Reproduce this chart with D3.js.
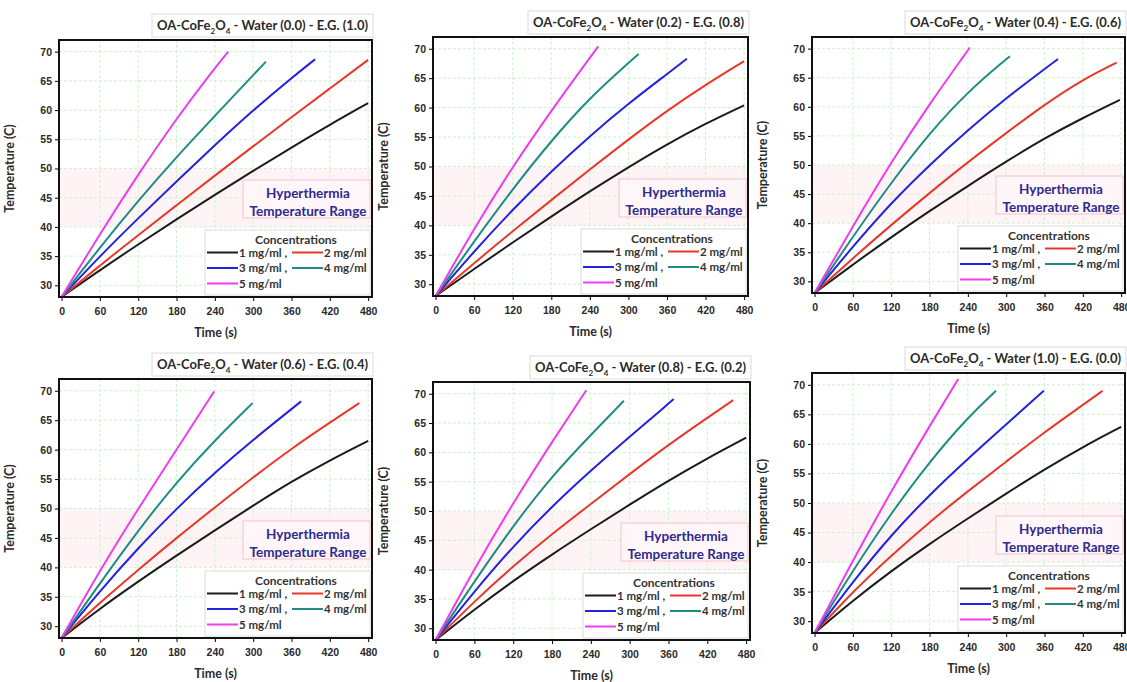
<!DOCTYPE html>
<html>
<head>
<meta charset="utf-8">
<script src="https://cdn.jsdelivr.net/npm/d3@7"></script>
<style>
  body { margin: 0; background: #fff; }
  svg { font-family: Lato, "Open Sans", sans-serif; }
</style>
</head>
<body>
<div id="chart"></div>
<script>
// Concentrations and their line colours.
const concentrations = ["1 mg/ml", "2 mg/ml", "3 mg/ml", "4 mg/ml", "5 mg/ml"];
const lineColors = ["#1b1b1b", "#e8382a", "#2222e0", "#1f8c84", "#ee3cee"];

// Water / ethylene glycol fractions, one panel each.
const waterFractions = ["0.0", "0.2", "0.4", "0.6", "0.8", "1.0"];
const egFractions = ["1.0", "0.8", "0.6", "0.4", "0.2", "0.0"];

const xTicks = [0, 60, 120, 180, 240, 300, 360, 420, 480];
const yTicks = [30, 35, 40, 45, 50, 55, 60, 65, 70];

// Temperatures (C) read at 0, 60, 120 ... s, plus where each run stopped.
const times = [0, 60, 120, 180, 240, 300, 360, 420, 480];

const tempsW00 = [
  [28, 32.6, 37, 41.3, 45.5, 49.6, 53.6, 57.5, 61.2],
  [28, 33.4, 38.6, 43.7, 48.8, 53.8, 58.8, 63.7, 68.6],
  [28, 35, 41.5, 47.8, 54, 60, 65.5],
  [28, 36.5, 44.5, 52, 59, 66],
  [28, 38.8, 49, 58.6, 67.2]
];
const stopW00 = [[480, 61.2], [480, 68.6], [397, 68.7], [320, 68.3], [261, 70]];

const tempsW02 = [
  [28, 32.6, 37.1, 41.5, 45.8, 49.9, 53.8, 57.3, 60.4],
  [28, 33.6, 39, 44.3, 49.5, 54.6, 59.5, 63.9, 67.9],
  [28, 35.6, 42.7, 49.2, 55.2, 60.7, 65.7],
  [28, 37.3, 46.2, 54.4, 61.7, 67.6],
  [28, 39.5, 50, 59.5, 68.5]
];
const stopW02 = [[480, 60.4], [480, 67.9], [391, 68.3], [316, 69.1], [253, 70.4]];

const tempsW04 = [
  [28, 32.9, 37.6, 42.1, 46.4, 50.6, 54.6, 58.1],
  [28, 34, 39.7, 45.2, 50.5, 55.5, 60.4, 64.7],
  [28, 36, 43.5, 50, 56, 61.5, 66.5],
  [28, 37.7, 47, 55.5, 62.6, 68.2],
  [28, 39.5, 50.5, 60.5, 69.7]
];
const stopW04 = [[478, 61.2], [473, 67.6], [381, 68.2], [306, 68.7], [243, 70.2]];

const tempsW06 = [
  [28, 33, 37.6, 42, 46.3, 50.5, 54.6, 58.2, 61.5],
  [28, 34, 39.6, 45, 50.2, 55.3, 60.2, 64.6],
  [28, 36, 43.3, 50, 56.1, 61.7, 66.9],
  [28, 37.3, 46.3, 54.5, 61.6],
  [28, 39.5, 50, 60]
];
const stopW06 = [[480, 61.5], [466, 67.9], [375, 68.2], [299, 67.9], [239, 69.9]];

const tempsW08 = [
  [28, 33.2, 38.1, 42.6, 46.9, 51.1, 55.2, 59, 62.5],
  [28, 34.6, 40.6, 46.1, 51.2, 56.3, 61.3, 65.9],
  [28, 36.3, 44, 50.8, 56.9, 62.7, 68.3],
  [28, 38, 47.5, 56, 63],
  [28, 40.2, 51.4, 61.8]
];
const stopW08 = [[480, 62.5], [460, 68.9], [368, 69.1], [291, 68.8], [233, 70.6]];

const tempsW10 = [
  [28, 33.5, 38.5, 43.1, 47.4, 51.6, 55.7, 59.5, 62.9],
  [28, 35, 41.1, 46.8, 52, 57, 62, 66.6],
  [28, 36.7, 44.6, 51.4, 57.5, 63.3],
  [28, 38.6, 48.3, 57, 64.5],
  [28, 40.3, 52, 63]
];
const stopW10 = [[480, 62.9], [451, 69], [359, 69], [284, 69], [225, 71]];

const panelTemps = [tempsW00, tempsW02, tempsW04, tempsW06, tempsW08, tempsW10];
const panelStops = [stopW00, stopW02, stopW04, stopW06, stopW08, stopW10];

// Plot frames of the six panels (left, top, right, bottom).
const frames = [
  [59, 40, 372, 297], [433, 37, 748, 296], [812, 37, 1125, 293],
  [59, 379, 372, 638], [433, 382, 750, 640], [812, 373, 1125, 633]
];

const width = 1127, height = 682;

const svg = d3.select("#chart").append("svg")
  .attr("width", width)
  .attr("height", height)
  .attr("viewBox", [0, 0, width, height]);

frames.forEach((f, p) => {
  const [L, T, R, B] = f;
  const x = d3.scaleLinear().domain([-4, 486]).range([L, R]);
  const y = d3.scaleLinear().domain([28, 72]).range([B, T]);
  const g = svg.append("g");

  // hyperthermia band 40-50 C
  g.append("rect")
    .attr("x", L).attr("width", R - L)
    .attr("y", y(50)).attr("height", y(40) - y(50))
    .attr("fill", "#fef4f6");

  // grid
  g.append("g").selectAll("line").data(xTicks.slice(1)).join("line")
    .attr("x1", d => x(d)).attr("x2", d => x(d))
    .attr("y1", T).attr("y2", B)
    .attr("stroke", "#cdf2cd").attr("stroke-dasharray", "3,2");
  g.append("g").selectAll("line").data(yTicks).join("line")
    .attr("x1", L).attr("x2", R)
    .attr("y1", d => y(d)).attr("y2", d => y(d))
    .attr("stroke", "#cdf2cd").attr("stroke-dasharray", "3,2");

  // hyperthermia label
  const hb = g.append("g");
  hb.append("rect")
    .attr("x", R - 129).attr("y", B - 117)
    .attr("width", 127).attr("height", 38)
    .attr("fill", "#fef6f8").attr("stroke", "#f3c4cc").attr("stroke-width", 1);
  hb.selectAll("text").data(["Hyperthermia", "Temperature Range"]).join("text")
    .attr("x", R - 64).attr("y", (d, i) => B - 99 + i * 18)
    .attr("text-anchor", "middle")
    .attr("font-size", 13.5).attr("font-weight", 700)
    .attr("fill", "#2e2a8e")
    .text(d => d);

  // curves
  const line = d3.line().x(d => x(d[0])).y(d => y(d[1])).curve(d3.curveBasis);
  panelTemps[p].forEach((temps, s) => {
    const pts = temps.map((v, i) => [times[i], v]);
    const stop = panelStops[p][s];
    if (stop[0] > pts[pts.length - 1][0]) pts.push(stop);
    g.append("path")
      .attr("d", line(pts))
      .attr("fill", "none")
      .attr("stroke", lineColors[s])
      .attr("stroke-width", 2);
  });

  // legend
  const lg = g.append("g");
  lg.append("rect")
    .attr("x", R - 167).attr("y", B - 67)
    .attr("width", 165).attr("height", 65)
    .attr("fill", "#fff").attr("stroke", "#dcdcdc");
  lg.append("text")
    .attr("x", R - 76).attr("y", B - 53)
    .attr("text-anchor", "middle")
    .attr("font-size", 12).attr("font-weight", 700).attr("fill", "#333")
    .text("Concentrations");
  concentrations.forEach((c, i) => {
    const col = i % 2, row = Math.floor(i / 2);
    const lx = col === 0 ? R - 165 : R - 80;
    const ly = B - 40.5 + row * 15.5;
    lg.append("line")
      .attr("x1", lx).attr("x2", lx + 31)
      .attr("y1", ly - 4).attr("y2", ly - 4)
      .attr("stroke", lineColors[i]).attr("stroke-width", 2);
    lg.append("text")
      .attr("x", lx + 32).attr("y", ly)
      .attr("font-size", 11.5).attr("font-weight", 700).attr("fill", "#333")
      .text(col === 0 && i < 4 ? c + " ," : c);
  });

  // axes
  g.append("g")
    .attr("transform", `translate(0,${B})`)
    .call(d3.axisBottom(x).tickValues(xTicks).tickSize(4).tickSizeOuter(0))
    .call(a => a.select(".domain").remove())
    .call(a => a.selectAll("text").attr("font-size", 10.5).attr("font-weight", 700)
      .attr("fill", "#2a2a2a").attr("font-family", null).attr("dy", "1em"));
  g.append("g")
    .attr("transform", `translate(${L},0)`)
    .call(d3.axisLeft(y).tickValues(yTicks).tickSize(4).tickSizeOuter(0))
    .call(a => a.select(".domain").remove())
    .call(a => a.selectAll("text").attr("font-size", 10.5).attr("font-weight", 700)
      .attr("fill", "#2a2a2a").attr("font-family", null));

  // frame
  g.append("rect")
    .attr("x", L).attr("y", T).attr("width", R - L).attr("height", B - T)
    .attr("fill", "none").attr("stroke", "#111").attr("stroke-width", 2);

  // axis titles
  g.append("text")
    .attr("transform", `translate(${L - 45},${(T + B) / 2}) rotate(-90)`)
    .attr("text-anchor", "middle")
    .attr("font-size", 12.5).attr("font-weight", 700).attr("fill", "#2a2a2a")
    .text("Temperature (C)");
  g.append("text")
    .attr("x", (L + R) / 2).attr("y", B + 40)
    .attr("text-anchor", "middle")
    .attr("font-size", 12.5).attr("font-weight", 700).attr("fill", "#2a2a2a")
    .text("Time (s)");

  // panel title
  g.append("rect")
    .attr("x", R - 220).attr("y", T - 26)
    .attr("width", 221).attr("height", 23)
    .attr("fill", "#fff").attr("stroke", "#dcdcdc");
  const t = g.append("text")
    .attr("x", R - 109.5).attr("y", T - 10)
    .attr("text-anchor", "middle")
    .attr("font-size", 13).attr("font-weight", 700).attr("fill", "#2a2a2a");
  t.append("tspan").text("OA-CoFe");
  t.append("tspan").attr("font-size", 8).attr("dy", 4).text("2");
  t.append("tspan").attr("dy", -4).text("O");
  t.append("tspan").attr("font-size", 8).attr("dy", 4).text("4");
  t.append("tspan").attr("dy", -4)
    .text(` - Water (${waterFractions[p]}) - E.G. (${egFractions[p]})`);
});
</script>
</body>
</html>
